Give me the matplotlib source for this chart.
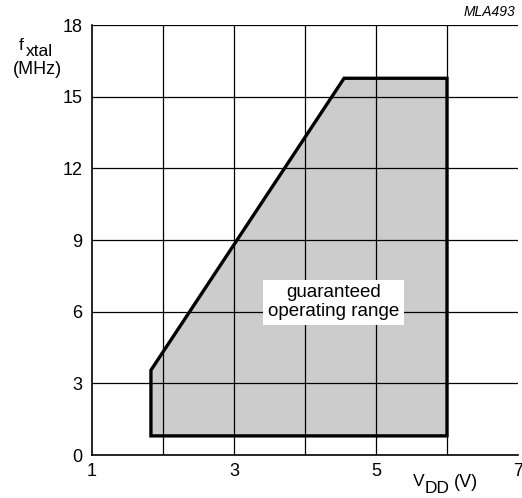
import matplotlib
matplotlib.use("Agg")
import matplotlib.pyplot as plt

plt.rcParams['font.family'] = ['Liberation Sans', 'DejaVu Sans']

# operating range outline (VDD in V, fxtal in MHz)
vdd = [1.83, 1.83, 4.55, 6.0, 6.0]
fxtal = [0.8, 3.55, 15.77, 15.77, 0.8]

x_ticks = [1, 3, 5, 7]
y_ticks = [0, 3, 6, 9, 12, 15, 18]
x_grid = [2, 3, 4, 5, 6]
y_grid = [3, 6, 9, 12, 15, 18]

fig = plt.figure(figsize=(5.22, 4.98), dpi=100)
ax = fig.add_axes([92 / 522, 43 / 498, 426 / 522, 430 / 498])

ax.set_xlim(1, 7)
ax.set_ylim(0, 18)

for gx in x_grid:
    ax.axvline(gx, color='black', lw=0.9, zorder=3)
for gy in y_grid:
    ax.axhline(gy, color='black', lw=0.9, zorder=3)

ax.fill(vdd, fxtal, facecolor='#cccccc', edgecolor='none', zorder=1)
ax.fill(vdd, fxtal, facecolor='none', edgecolor='black', lw=2.4,
        joinstyle='miter', zorder=4)

ax.text(4.40, 6.4, 'guaranteed\noperating range', ha='center', va='center',
        fontsize=13.5, linespacing=1.1, zorder=5,
        bbox=dict(facecolor='white', edgecolor='none', pad=3.5))

ax.set_xticks(x_ticks)
ax.set_yticks(y_ticks)
ax.tick_params(axis='both', length=0, labelsize=13)
ax.tick_params(axis='y', pad=7)
ax.tick_params(axis='x', pad=6)
for s in ['top', 'right']:
    ax.spines[s].set_visible(False)
for s in ['left', 'bottom']:
    ax.spines[s].set_linewidth(1.2)

# axis labels, built from pieces so the subscripts keep their size
fig.text(21.5 / 522, 1 - 46 / 498, 'f', ha='center', va='center', fontsize=12.5)
fig.text(26 / 522, 1 - 52 / 498, 'xtal', ha='left', va='center', fontsize=12.5)
fig.text(37.5 / 522, 1 - 70 / 498, '(MHz)', ha='center', va='center', fontsize=13)

fig.text(413 / 522, 1 - 481 / 498, 'V', ha='left', va='center', fontsize=12.5)
fig.text(425 / 522, 1 - 488 / 498, 'DD', ha='left', va='center', fontsize=12.5)
fig.text(466 / 522, 1 - 482 / 498, '(V)', ha='center', va='center', fontsize=13)

fig.text(515 / 522, 1 - 12 / 498, 'MLA493', ha='right', va='center', fontsize=10, style='italic')

fig.savefig('out.png', dpi=100)
